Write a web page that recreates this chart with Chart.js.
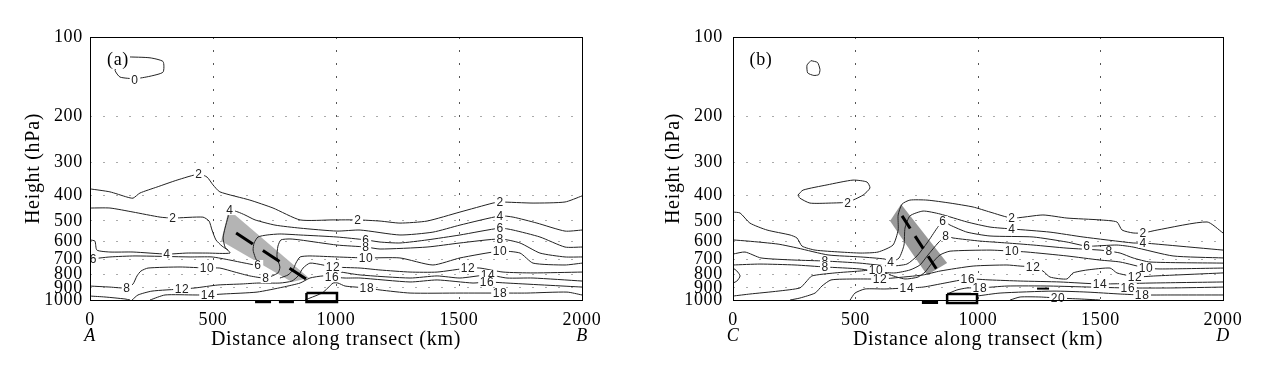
<!DOCTYPE html>
<html>
<head>
<meta charset="utf-8">
<script src="https://cdn.jsdelivr.net/npm/chart.js@4.4.0/dist/chart.umd.min.js"></script>
<style>
  body { margin: 0; background: #fff; width: 1274px; height: 375px; overflow: hidden; position: relative; }
  canvas { position: absolute; top: 0; }
  #chartA { left: 0; }
  #chartB { left: 637px; }
</style>
</head>
<body>
<canvas id="chartA" width="637" height="375"></canvas>
<canvas id="chartB" width="637" height="375"></canvas>
<script>
/**************** AXES ****************/
const xTicks = [0, 500, 1000, 1500, 2000];
const pTicks = [100, 200, 300, 400, 500, 600, 700, 800, 900, 1000];

/**************** PANEL (a) CONTOURS  [km, hPa] ****************/
const a0 = [[150,119],[244,120],[297,124],[297,136],[244,141],[183,144],[122,142],[102,134],[114,126],[150,119]];
const a2u = [[0,378],[81,388],[150,406],[175,410],[203,392],[272,372],[354,350],[443,332],[476,341],[500,365],[528,388],[650,417],[744,447],[854,496],[988,496],[1089,496],[1179,501],[1260,510],[1370,501],[1504,463],[1638,428],[1667,424],[1801,428],[1931,424],[2000,402]];
const a2l = [[0,447],[81,447],[175,463],[285,484],[337,488],[459,484],[484,501],[496,542],[512,591],[537,624],[561,646]];
const a4 = [[2000,542],[1931,547],[1817,510],[1720,484],[1667,479],[1504,519],[1394,552],[1260,566],[1098,542],[1004,547],[854,533],[752,519],[671,496],[630,475],[602,463],[569,455],[561,484],[549,533],[541,581],[549,629],[569,663],[476,663],[394,663],[313,669],[175,657],[81,657],[28,646],[20,597],[0,591]];
const a6 = [[2000,629],[1931,629],[1829,576],[1720,542],[1667,533],[1504,566],[1370,591],[1260,607],[1179,602],[1122,591],[1004,576],[854,566],[772,561],[720,566],[683,576],[667,607],[663,646],[671,686],[683,736],[630,724],[569,705],[496,686],[407,686],[183,680],[81,686],[0,699]];
const a8 = [[2000,686],[1931,686],[1829,663],[1748,607],[1667,586],[1504,607],[1370,629],[1179,640],[1122,629],[1004,618],[854,591],[813,586],[776,591],[764,624],[760,686],[772,749],[764,789],[715,825],[650,810],[589,783],[528,756],[476,756],[366,749],[236,756],[207,776],[191,810],[175,869],[150,900],[81,893],[0,885]];
const a10 = [[2000,724],[1931,736],[1801,724],[1748,663],[1667,652],[1504,692],[1394,736],[1260,692],[1122,692],[1004,686],[894,680],[854,686],[837,724],[825,769],[805,803],[772,825]];
const a12 = [[2000,783],[1801,789],[1679,783],[1585,756],[1537,756],[1411,783],[1301,783],[1179,769],[1098,756],[988,749],[947,736],[894,724],[866,756],[846,810],[821,847],[772,862],[683,862],[618,869],[520,877],[427,900],[374,908],[252,925],[195,957],[171,1000]];
const a14 = [[996,776],[1098,803],[1301,825],[1411,810],[1504,825],[1618,803],[1695,825],[1801,825],[2000,847]];
const a16 = [[244,1000],[305,957],[427,957],[480,957],[541,949],[679,933],[785,893],[854,862],[894,825],[947,810],[984,818],[1037,825],[1098,825],[1301,854],[1411,839],[1557,862],[1614,854],[1695,862],[2000,893]];
const a18 = [[2000,957],[1939,933],[1776,941],[1667,941],[1504,941],[1301,941],[1179,916],[1126,900],[1037,885],[1008,862],[988,862],[967,900],[943,941],[894,983],[874,1000]];
const aBase = [[0,966],[61,974],[142,991],[163,1000]];

const aBand = [[561,467],[585,471],[890,825],[821,854],[533,597],[561,467]];
const aFront = [[594,556],[878,832]];
const aBox = [[880,941],[1004,941],[1004,1018],[880,1018],[880,941]];
const aDash1 = [[671,1015],[736,1015]];
const aDash2 = [[768,1015],[829,1015]];

const aLabels = [
  [183,145,'0'],[443,332,'2'],[1089,496,'2'],[1667,424,'2'],[337,488,'2'],
  [569,455,'4'],[1667,479,'4'],[313,669,'4'],
  [683,736,'6'],[1122,591,'6'],[1667,533,'6'],[14,699,'6'],
  [1122,629,'8'],[1667,586,'8'],[715,825,'8'],[150,900,'8'],
  [476,756,'10'],[1122,692,'10'],[1667,652,'10'],
  [988,749,'12'],[1537,756,'12'],[374,908,'12'],
  [1618,803,'14'],[480,957,'14'],
  [984,818,'16'],[1614,854,'16'],
  [1126,900,'18'],[1667,941,'18']
];

/**************** PANEL (b) CONTOURS  [km, hPa] ****************/
const b0 = [[318,123],[345,125],[355,133],[350,139],[330,140],[305,137],[302,128],[318,123]];
const b2loop = [[265,399],[286,382],[384,365],[490,350],[547,356],[559,375],[531,399],[469,424],[396,428],[314,428],[273,410],[265,399]];
const b2 = [[0,463],[29,467],[69,510],[139,542],[233,566],[261,581],[282,624],[335,646],[437,657],[522,663],[592,657],[653,618],[674,542],[674,475],[690,432],[722,417],[792,417],[886,428],[980,443],[1049,463],[1139,488],[1265,475],[1363,488],[1498,496],[1567,505],[1588,542],[1633,556],[1674,556],[1731,542],[1935,505],[2000,556]];
const b4 = [[0,591],[61,597],[184,613],[265,635],[388,674],[522,686],[620,699],[645,717],[678,692],[698,618],[702,533],[722,479],[776,459],[845,471],[955,505],[1049,528],[1139,537],[1294,552],[1429,576],[1633,607],[1674,607],[1772,618],[2000,646]];
const b6 = [[0,669],[49,657],[114,692],[253,705],[376,711],[518,724],[641,743],[710,730],[751,680],[792,607],[833,533],[857,501],[886,519],[955,552],[1049,571],[1225,576],[1363,602],[1445,624],[1567,618],[1633,629],[1796,680],[2000,692]];
const b8 = [[0,736],[110,730],[253,736],[376,749],[518,762],[600,783],[661,789],[722,769],[763,736],[796,674],[837,607],[869,571],[898,581],[1008,597],[1118,607],[1225,618],[1363,635],[1498,646],[1535,652],[1580,663],[1633,692],[1702,717],[2000,724]];
const b10 = [[0,966],[69,949],[184,925],[273,900],[298,854],[322,810],[416,789],[518,776],[584,769],[641,803],[702,832],[755,818],[784,783],[812,724],[845,674],[886,652],[1049,646],[1139,652],[1200,657],[1363,680],[1498,705],[1580,717],[1686,756],[1743,762],[2000,756]];
const b12 = [[233,1000],[273,983],[335,941],[363,885],[400,839],[498,832],[600,832],[653,825],[776,803],[845,776],[980,743],[1118,736],[1172,743],[1225,749],[1265,776],[1294,818],[1363,832],[1388,789],[1445,769],[1539,756],[1567,789],[1620,810],[1641,818],[1723,810],[2000,789]];
const b14 = [[478,1000],[498,941],[539,908],[620,908],[710,900],[776,893],[865,862],[959,832],[1049,839],[1172,847],[1335,854],[1498,869],[1702,862],[2000,854]];
const b16 = [[874,949],[914,916],[955,900],[1008,900],[1118,885],[1294,885],[1457,893],[1612,900],[1784,900],[2000,893]];
const b18 = [[996,966],[1090,941],[1306,925],[1445,933],[1580,949],[1670,957],[1784,957],[2000,957]];
const b20 = [[1131,1000],[1172,974],[1253,974],[1327,983],[1416,991],[1498,1000]];
const bBump = [[0,756],[16,776],[29,810],[16,847],[0,862]];
const bMark = [[1241,905],[1290,905]];

const bBand = [[686,432],[874,724],[792,803],[641,501],[686,432]];
const bFront = [[690,479],[833,769]];
const bBox = [[874,949],[996,949],[996,1027],[874,1027],[874,949]];
const bDash = [[771,1022],[837,1022]];

const bLabels = [
  [469,428,'2'],[1139,488,'2'],[1674,556,'2'],
  [645,717,'4'],[1139,537,'4'],[1674,607,'4'],
  [857,501,'6'],[1445,624,'6'],
  [376,711,'8'],[376,749,'8'],[869,571,'8'],[1535,652,'8'],
  [584,769,'10'],[1139,652,'10'],[1686,756,'10'],
  [600,832,'12'],[1225,749,'12'],[1641,818,'12'],
  [710,900,'14'],[1498,869,'14'],
  [959,832,'16'],[1612,900,'16'],
  [1008,900,'18'],[1670,957,'18'],
  [1327,983,'20']
];

/**************** HELPERS ****************/
const SERIF = '"Liberation Serif", "Times New Roman", serif';
const pts = arr => arr.map(([x, p]) => ({ x, y: p }));

function contour(arr) {
  return { data: pts(arr), showLine: true, borderColor: '#222', borderWidth: 1,
           pointRadius: 0, tension: 0.2, fill: false, order: 5 };
}
function band(arr, color) {
  return { data: pts(arr), showLine: true, borderWidth: 0, borderColor: color,
           backgroundColor: color, pointRadius: 0, tension: 0, fill: 'shape', order: 10 };
}
function mark(arr, width, dash) {
  return { data: pts(arr), showLine: true, borderColor: '#000', borderWidth: width,
           borderDash: dash || [], pointRadius: 0, tension: 0, fill: false, order: 1, clip: false };
}

/**************** DECORATION PLUGIN ****************/
const panelDeco = {
  id: 'panelDeco',
  beforeDraw(chart) {
    // the printed figure uses slightly spaced lettering
    chart.ctx.letterSpacing = '0.7px';
  },
  afterDatasetsDraw(chart, args, opts) {
    const { ctx, chartArea: a, scales: { x, y } } = chart;
    ctx.save();

    // contour value labels, with a gap in the line
    ctx.font = '12px "Liberation Sans", Arial, sans-serif';
    ctx.textAlign = 'center';
    ctx.textBaseline = 'middle';
    opts.labels.forEach(([v, p, t]) => {
      const px = x.getPixelForValue(v);
      const py = y.getPixelForValue(p);
      const w = ctx.measureText(t).width + 3;
      ctx.fillStyle = '#fff';
      ctx.fillRect(px - w / 2, py - 5, w, 10);
      ctx.fillStyle = '#222';
      ctx.fillText(t, px, py + 1);
    });

    // panel tag
    ctx.font = '18px ' + SERIF;
    const tw = ctx.measureText(opts.tag).width;
    ctx.fillStyle = '#fff';
    ctx.fillRect(a.left + 28 - tw / 2 - 1, a.top + 14, tw + 2, 18);
    ctx.fillStyle = '#000';
    ctx.fillText(opts.tag, a.left + 28, a.top + 23);

    // transect end letters
    ctx.font = 'italic 18px ' + SERIF;
    ctx.fillText(opts.ends[0], x.getPixelForValue(0), 336);
    ctx.fillText(opts.ends[1], x.getPixelForValue(2000), 336);

    // frame
    ctx.strokeStyle = '#000';
    ctx.lineWidth = 1;
    ctx.strokeRect(Math.round(a.left) + 0.5, Math.round(a.top) + 0.5,
                   Math.round(a.right - a.left), Math.round(a.bottom - a.top));
    ctx.restore();
  }
};

/**************** CHART BUILDER ****************/
function buildChart(id, datasets, labels, tag, ends, yWidth, tickPad, titlePad, rightPad) {
  return new Chart(document.getElementById(id), {
    type: 'scatter',
    data: { datasets },
    options: {
      responsive: false,
      animation: false,
      layout: { padding: { top: 37, right: rightPad, bottom: 0, left: 0 } },
      plugins: {
        legend: { display: false },
        tooltip: { enabled: false },
        panelDeco: { labels, tag, ends }
      },
      scales: {
        x: {
          type: 'linear', min: 0, max: 2000,
          afterBuildTicks: s => { s.ticks = xTicks.map(v => ({ value: v })); },
          afterFit: s => { s.height = 75; },
          grid: {
            drawTicks: false, lineWidth: 1,
            color: c => (c.tick && (c.tick.value === 0 || c.tick.value === 2000)) ? 'rgba(0,0,0,0)' : '#555',
            borderDash: [2, 11]
          },
          border: { display: false, dash: [2, 11] },
          ticks: { color: '#000', padding: 9, maxRotation: 0, autoSkip: false,
                   font: { family: SERIF, size: 18 }, callback: v => String(v) },
          title: { display: true, text: 'Distance along transect (km)', color: '#000',
                   font: { family: SERIF, size: 20 }, padding: { top: 0, bottom: 23 } }
        },
        y: {
          type: 'logarithmic', min: 100, max: 1000, reverse: true,
          afterBuildTicks: s => { s.ticks = pTicks.map(v => ({ value: v })); },
          afterFit: s => { s.width = yWidth; },
          grid: {
            drawTicks: false, lineWidth: 1,
            color: c => (c.tick && (c.tick.value === 100 || c.tick.value === 1000)) ? 'rgba(0,0,0,0)' : '#aaa',
            borderDash: [2, 11]
          },
          border: { display: false, dash: [2, 11] },
          ticks: { color: '#000', padding: tickPad, autoSkip: false,
                   font: { family: SERIF, size: 18 }, callback: v => String(v) },
          title: { display: true, text: 'Height (hPa)', color: '#000',
                   font: { family: SERIF, size: 20 }, padding: { top: titlePad, bottom: 0 } }
        }
      }
    },
    plugins: [panelDeco]
  });
}

/**************** DRAW ****************/
const dsA = [
  band(aBand, '#b4b4b4'),
  ...[a0, a2u, a2l, a4, a6, a8, a10, a12, a14, a16, a18, aBase].map(contour),
  mark(aFront, 3, [20, 12]),
  mark(aBox, 2.5),
  mark(aDash1, 3),
  mark(aDash2, 3)
];
const dsB = [
  band(bBand, '#999999'),
  ...[b0, b2loop, b2, b4, b6, b8, b10, b12, b14, b16, b18, b20, bBump].map(contour),
  mark(bMark, 2),
  mark(bFront, 3, [15, 9]),
  mark(bBox, 2.5),
  mark(bDash, 3)
];

buildChart('chartA', dsA, aLabels, '(a)', ['A', 'B'], 90, 7, 22, 55);
buildChart('chartB', dsB, bLabels, '(b)', ['C', 'D'], 96, 10, 25, 51);
</script>
</body>
</html>
